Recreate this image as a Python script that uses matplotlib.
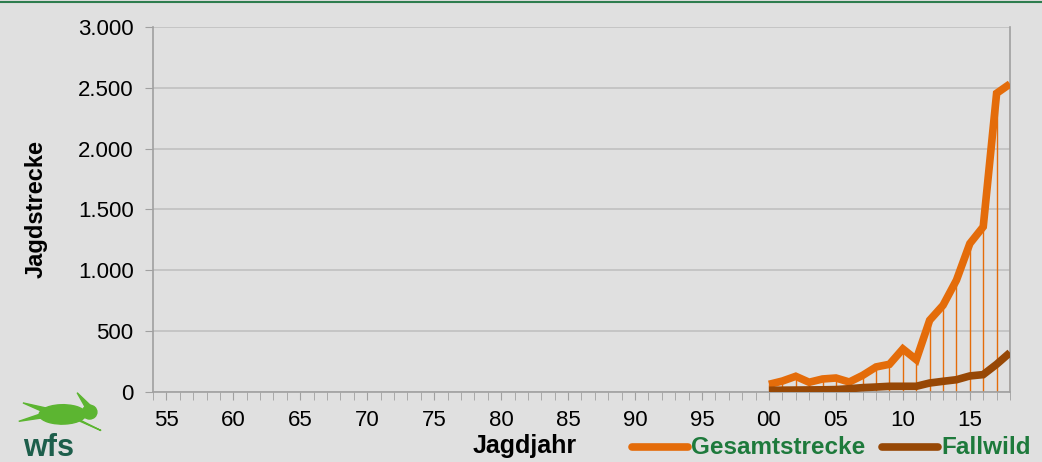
import matplotlib
matplotlib.use("Agg")
import matplotlib.pyplot as plt
from matplotlib.lines import Line2D
from matplotlib.patches import Ellipse, Polygon

plt.rcParams['font.family'] = ['Liberation Sans', 'DejaVu Sans']

# data
years = list(range(2000, 2019))
gesamt = [63, 90, 129, 80, 107, 115, 82, 137, 206, 228, 354, 266, 590, 713, 919, 1220, 1358, 2455, 2532]
fallwild = [14, 15, 16, 17, 18, 20, 27, 36, 41, 47, 47, 47, 74, 88, 101, 132, 143, 228, 324]
ylabels_y = [0, 500, 1000, 1500, 2000, 2500, 3000]
series_names = ['Gesamtstrecke', 'Fallwild']

bg = '#e0e0e0'
orange = '#e46c0a'
brown = '#974806'
green = '#1e7a3c'

fig = plt.figure(figsize=(10.42, 4.62), dpi=100, facecolor=bg)
ax = fig.add_axes([0.1468, 0.1515, 0.8225, 0.7901], facecolor=bg)

ax.vlines(years, 0, gesamt, color=orange, lw=1.0, zorder=2)
ax.plot(years, gesamt, color=orange, lw=5.5, solid_capstyle='butt', solid_joinstyle='miter', zorder=3)
ax.plot(years, fallwild, color=brown, lw=5.5, solid_capstyle='butt', solid_joinstyle='miter', zorder=3)

ax.set_xlim(1954, 2018)
ax.set_ylim(0, 3000)
ax.set_yticks(ylabels_y)
ax.set_yticklabels([f"{v:,}".replace(',', '.') for v in ylabels_y], fontsize=16)
ax.set_xticks(range(1955, 2019, 5))
ax.set_xticklabels([f"{y % 100:02d}" for y in range(1955, 2019, 5)], fontsize=16)
ax.set_xticks(range(1954, 2019), minor=True)
ax.tick_params(axis='x', which='both', direction='out', length=6, color='#a0a0a0', pad=7)
ax.tick_params(axis='y', direction='out', length=6, color='#a0a0a0', pad=8)

ax.grid(axis='y', color='#c0c0c0', lw=1.2)
ax.set_axisbelow(True)
ax.spines['top'].set_visible(False)
for s in ['left', 'bottom', 'right']:
    ax.spines[s].set_color('#a0a0a0')
    ax.spines[s].set_linewidth(1.2)

ax.set_ylabel('Jagdstrecke', fontsize=17, fontweight='bold', labelpad=22)
fig.text(525 / 1042, 1 - 446 / 462, 'Jagdjahr', fontsize=18, fontweight='bold',
         ha='center', va='center')

# legend drawn by hand
leg_y = 1 - 447 / 462
for (x0, x1, tx), name, c in zip([(632, 688, 691), (882, 938, 941)], series_names, [orange, brown]):
    fig.add_artist(Line2D([x0 / 1042, x1 / 1042], [leg_y, leg_y], color=c, lw=5.5,
                          solid_capstyle='round', transform=fig.transFigure))
    fig.text(tx / 1042, leg_y, name, fontsize=17.5, fontweight='bold', color=green,
             ha='left', va='center')

# top green rule
fig.add_artist(Line2D([0, 1], [0.996, 0.996], color='#2e7d4f', lw=1.5, transform=fig.transFigure))

# logo
fig.text(0.022, 0.012, 'wfs', fontsize=22, fontweight='bold', color='#1d5e4b')
hare = '#5cb531'
tf = fig.transFigure
fig.add_artist(Ellipse((0.060, 0.103), 0.045, 0.042, angle=8, color=hare, transform=tf))
fig.add_artist(Ellipse((0.086, 0.108), 0.014, 0.030, color=hare, transform=tf))
fig.add_artist(Polygon([[0.082, 0.118], [0.074, 0.150], [0.087, 0.122]], color=hare, transform=tf))
fig.add_artist(Polygon([[0.040, 0.105], [0.018, 0.088], [0.042, 0.096]], color=hare, transform=tf))
fig.add_artist(Polygon([[0.074, 0.094], [0.097, 0.068], [0.077, 0.088]], color=hare, transform=tf))
fig.add_artist(Polygon([[0.040, 0.110], [0.022, 0.128], [0.044, 0.117]], color=hare, transform=tf))

fig.savefig('out.png', dpi=100, facecolor=bg)
